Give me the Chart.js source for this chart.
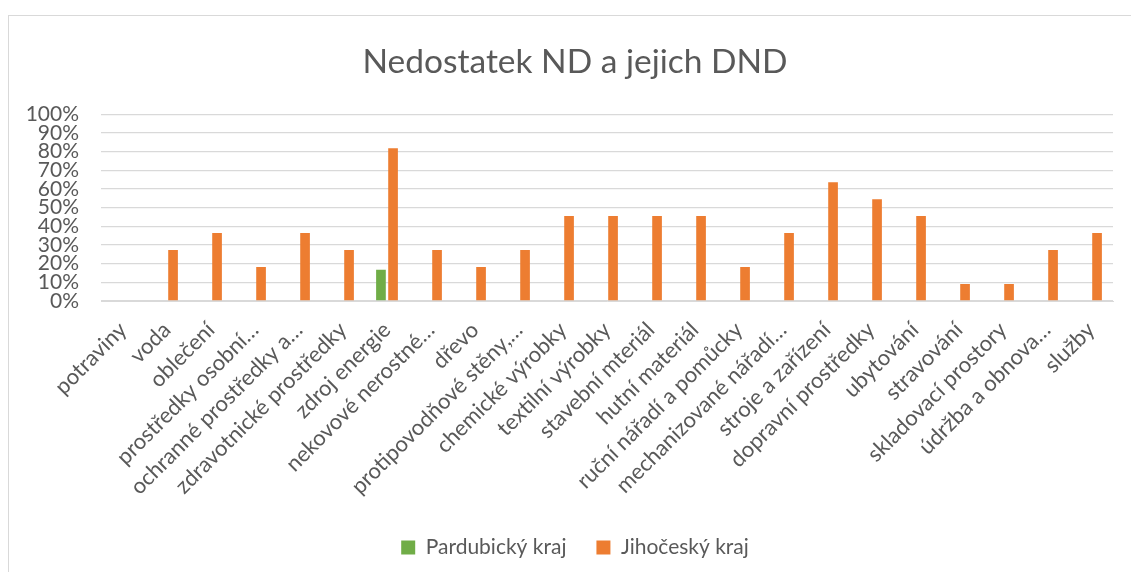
<!DOCTYPE html>
<html>
<head>
<meta charset="utf-8">
<script src="https://cdn.jsdelivr.net/npm/chart.js@4"></script>
<style>
  html, body { margin: 0; padding: 0; background: #fff; }
  #frame { position: absolute; left: 8px; top: 15px; width: 1123px; height: 557px; border-left: 1px solid #d9d9d9; border-top: 1px solid #d9d9d9; box-sizing: border-box; }
  #wrap { position: absolute; left: 0; top: 0; width: 1131px; height: 572px; }
</style>
</head>
<body>
<div id="frame"></div>
<div id="wrap"><canvas id="needChart" width="1131" height="572"></canvas></div>
<script>
// categories and values
const categories = ['potraviny', 'voda', 'oblečení', 'prostředky osobní…', 'ochranné prostředky a…',
  'zdravotnické prostředky', 'zdroj energie', 'nekovové nerostné…', 'dřevo', 'protipovodňové stěny,…',
  'chemické výrobky', 'textilní výrobky', 'stavební mteriál', 'hutní materiál', 'ruční nářadí a pomůcky',
  'mechanizované nářadí…', 'stroje a zařízení', 'dopravní prostředky', 'ubytování', 'stravování',
  'skladovací prostory', 'údržba a obnova…', 'služby'];
const pardubicky = [0, 0, 0, 0, 0, 0, 0.167, 0, 0, 0, 0, 0, 0, 0, 0, 0, 0, 0, 0, 0, 0, 0, 0];
const jihocesky = [0, 0.273, 0.364, 0.182, 0.364, 0.273, 0.818, 0.273, 0.182, 0.273, 0.455, 0.455,
  0.455, 0.455, 0.182, 0.364, 0.636, 0.545, 0.455, 0.091, 0.091, 0.273, 0.364];
const yTicks = [0, 0.1, 0.2, 0.3, 0.4, 0.5, 0.6, 0.7, 0.8, 0.9, 1];

const textColor = '#595959';
const font = 'Lato, "Open Sans", sans-serif';

const ctx = document.getElementById('needChart').getContext('2d');
const needChart = new Chart(ctx, {
    type: 'bar',
    data: {
        labels: categories,
        datasets: [{
            label: 'Pardubický kraj',
            data: pardubicky,
            backgroundColor: '#70AD47',
            categoryPercentage: 0.55,
            barPercentage: 0.8
        }, {
            label: 'Jihočeský kraj',
            data: jihocesky,
            backgroundColor: '#ED7D31',
            categoryPercentage: 0.55,
            barPercentage: 0.8
        }]
    },
    options: {
        responsive: false,
        animation: false,
        layout: { padding: { left: 19, right: 0, top: 0, bottom: 4 } },
        plugins: {
            title: {
                display: true,
                text: 'Nedostatek ND a jejich DND',
                color: textColor,
                font: { family: font, size: 33.5, weight: 'normal' },
                padding: { top: 42, bottom: 32 }
            },
            legend: {
                position: 'bottom',
                labels: {
                    color: textColor,
                    font: { family: font, size: 21 },
                    boxWidth: 14,
                    boxHeight: 14,
                    padding: 30
                }
            },
            tooltip: { enabled: false }
        },
        scales: {
            x: {
                grid: { display: false, drawTicks: false },
                border: { color: '#d9d9d9' },
                afterFit: axis => { axis.height = 206; },
                ticks: {
                    color: textColor,
                    font: { family: font, size: 22 },
                    minRotation: 45,
                    maxRotation: 45,
                    autoSkip: false,
                    padding: 16
                }
            },
            y: {
                min: 0,
                max: 1,
                afterBuildTicks: axis => { axis.ticks = yTicks.map(v => ({ value: v })); },
                afterFit: axis => { axis.width = 82; },
                grid: { color: '#d9d9d9', lineWidth: 1.3, drawTicks: false },
                border: { display: false },
                ticks: {
                    color: textColor,
                    font: { family: font, size: 21 },
                    autoSkip: false,
                    padding: 22,
                    callback: v => Math.round(v * 100) + '%'
                }
            },
            // empty right-hand margin, keeps the plot end at the same place as the reference
            yRight: {
                type: 'linear',
                position: 'right',
                grid: { display: false, drawTicks: false },
                border: { display: false },
                ticks: { display: false },
                afterFit: axis => { axis.width = 18; }
            }
        }
    }
});
</script>
</body>
</html>
